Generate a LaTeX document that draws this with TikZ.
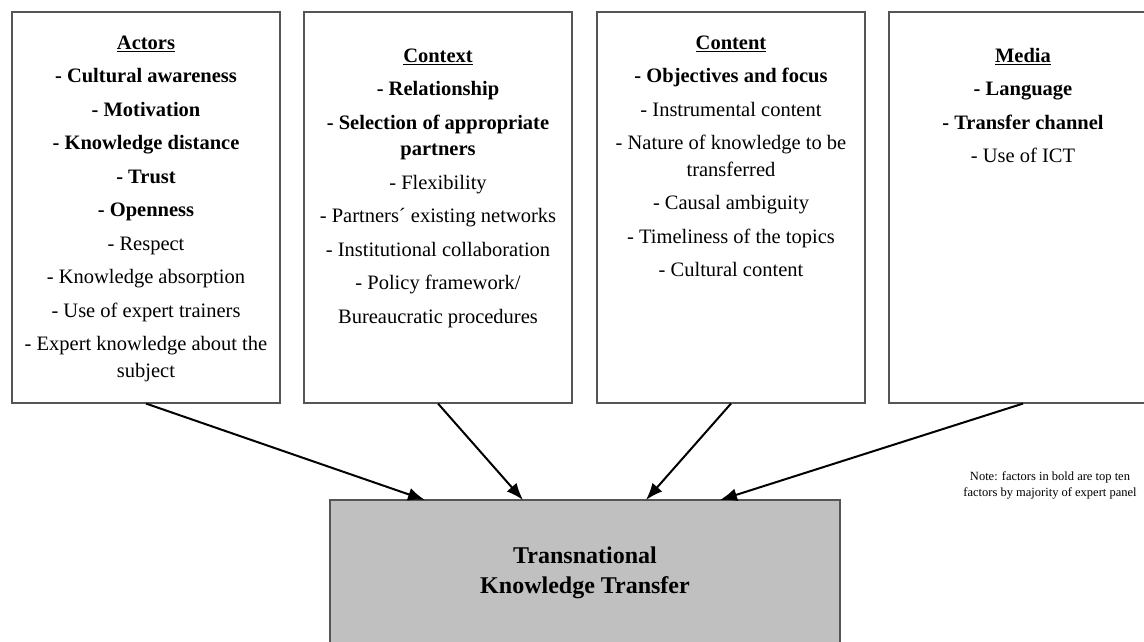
\documentclass[tikz,border=0pt]{standalone}
\usepackage{fontspec}
\setmainfont{Liberation Serif}
\usetikzlibrary{arrows.meta}

\definecolor{boxline}{RGB}{85,85,85}
\definecolor{tktfill}{RGB}{192,192,192}

\newcommand{\factorsize}{\fontsize{20.5}{26.5}\selectfont}
\newcommand{\tktsize}{\fontsize{24}{30}\selectfont}
\newcommand{\notesize}{\fontsize{12.5}{16}\selectfont}
\newcommand{\topstrut}{\rule{0pt}{15pt}}
\newcommand{\gap}{\\[7pt]}

\tikzset{
  factorbox/.style={draw=boxline, line width=1.1pt, minimum width=268pt,
    minimum height=391pt, inner sep=0pt},
  factortext/.style={anchor=north, align=center, inner sep=0pt, font=\factorsize},
  tktbox/.style={draw=boxline, fill=tktfill, line width=1.1pt, inner sep=0pt},
  tkttext/.style={align=center, inner sep=0pt, font=\tktsize\bfseries},
  notetext/.style={anchor=north, align=center, inner sep=0pt, font=\notesize},
  flow/.style={draw=black, line width=2pt, -{Latex[length=17pt,width=13pt]}}
}

\begin{document}
\begin{tikzpicture}[x=1pt,y=-1pt]
\useasboundingbox (0,0) rectangle (1144,641);
\clip (0,0) rectangle (1144,641);

% the four factor groups
\node[factorbox] (actors)  at (146,207.5) {};
\node[factorbox] (context) at (438,207.5) {};
\node[factorbox] (content) at (731,207.5) {};
\node[factorbox] (media)   at (1023,207.5) {};

\node[factortext] (actorstext) at (146,34) {\topstrut\underline{\textbf{Actors}}\gap
  \textbf{- Cultural awareness}\gap
  \textbf{- Motivation}\gap
  \textbf{- Knowledge distance}\gap
  \textbf{- Trust}\gap
  \textbf{- Openness}\gap
  - Respect\gap
  - Knowledge absorption\gap
  - Use of expert trainers\gap
  - Expert knowledge about the\\
  subject};

\node[factortext] (contexttext) at (438,47) {\topstrut\underline{\textbf{Context}}\gap
  \textbf{- Relationship}\gap
  \textbf{- Selection of appropriate}\\
  \textbf{partners}\gap
  - Flexibility\gap
  - Partners´ existing networks\gap
  - Institutional collaboration\gap
  - Policy framework/\gap
  Bureaucratic procedures};

\node[factortext] (contenttext) at (731,34) {\topstrut\underline{\textbf{Content}}\gap
  \textbf{- Objectives and focus}\gap
  - Instrumental content\gap
  - Nature of knowledge to be\\
  transferred\gap
  - Causal ambiguity\gap
  - Timeliness of the topics\gap
  - Cultural content};

\node[factortext] (mediatext) at (1023,47) {\topstrut\underline{\textbf{Media}}\gap
  \textbf{- Language}\gap
  \textbf{- Transfer channel}\gap
  - Use of ICT};

% the outcome box
\node[tktbox, minimum width=510pt, minimum height=145pt] (tkt) at (585,572.5) {};
\node[tkttext] (tkttitle) at (585,573) {Transnational\\Knowledge Transfer};

% arrow targets on the top edge of the outcome box
\coordinate (t1) at (425,500);
\coordinate (t2) at (523,500);
\coordinate (t3) at (646,500);
\coordinate (t4) at (720,500);

\draw[flow] (actors.south)  -- (t1);
\draw[flow] (context.south) -- (t2);
\draw[flow] (content.south) -- (t3);
\draw[flow] (media.south)   -- (t4);

% footnote
\node[notetext] (note) at (1050,469) {\rule{0pt}{11pt}Note: factors in bold are top ten\\
  factors by majority of expert panel};
\end{tikzpicture}
\end{document}
